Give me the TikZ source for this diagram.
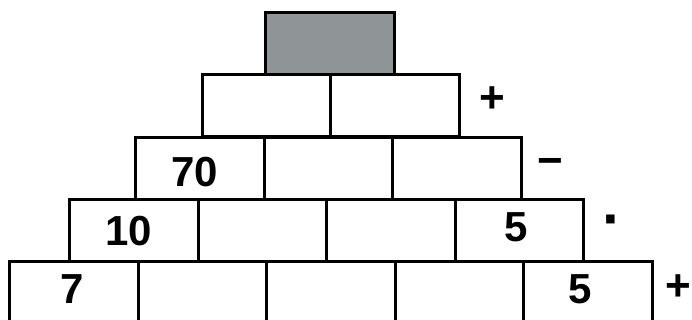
\documentclass[tikz,border=0pt]{standalone}
\usepackage{fontspec}
\setmainfont{Liberation Sans}
\definecolor{topgray}{RGB}{143,148,150}
\begin{document}
\begin{tikzpicture}[x=1pt,y=-1pt,
  brick/.style={draw=black,line width=3.2pt,minimum width=128.5pt,minimum height=62pt,inner sep=0pt,anchor=north west,fill=white},
  num/.style={font=\fontsize{42}{42}\selectfont\bfseries,inner sep=0pt},
  op/.style={font=\fontsize{44}{44}\selectfont\bfseries,inner sep=0pt}]
\useasboundingbox (0,0) rectangle (692,320);
% row 5 (bottom)
\foreach \c in {0,...,4} \node[brick] (e\c) at ({8+128.5*\c},260) {};
% row 4
\foreach \c in {0,...,3} \node[brick] (d\c) at ({68+128.5*\c},198) {};
% row 3
\foreach \c in {0,...,2} \node[brick] (c\c) at ({134+128.5*\c},136) {};
% row 2
\foreach \c in {0,...,1} \node[brick] (b\c) at ({200.5+128.5*\c},73) {};
% row 1
\node[brick,fill=topgray] (a0) at (264,11) {};
% numbers
\node[num] (n70) at (195,172) {70};
\node[num] (n10) at (129,231) {10};
\node[num] (n5a) at (516,227) {5};
\node[num] (n7) at (72,289) {7};
\node[num] (n5b) at (580,289) {5};
% operators
\node[op] (o1) at (492,100) {+};
\node[op] (o2) at (550,167) {−};
\node[op,font=\fontsize{60}{60}\selectfont\bfseries] (o3) at (612,227) {·};
\node[op] (o4) at (678,288) {+};
\end{tikzpicture}
\end{document}
